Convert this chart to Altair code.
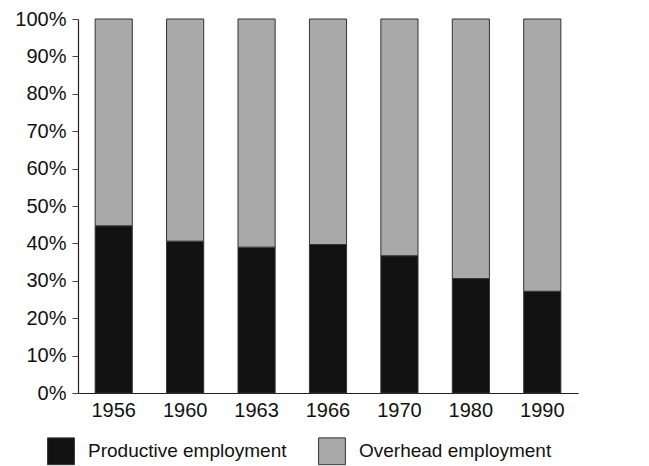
import altair as alt
import pandas as pd

years = ["1956", "1960", "1963", "1966", "1970", "1980", "1990"]
productive = [44.7, 40.6, 39.0, 39.7, 36.7, 30.6, 27.2]
overhead = [100 - p for p in productive]
series = ["Productive employment", "Overhead employment"]
colors = ["#111111", "#a9a9a9"]

rows = []
for y, p, o in zip(years, productive, overhead):
    rows.append({"year": y, "type": series[0], "value": p, "ord": 0})
    rows.append({"year": y, "type": series[1], "value": o, "ord": 1})
df = pd.DataFrame(rows)

font = "Liberation Sans"

chart = alt.Chart(df).mark_bar(stroke="#333333", strokeWidth=1).encode(
    x=alt.X("year:N", sort=years, title=None,
            scale=alt.Scale(paddingInner=0.48, paddingOuter=0.24),
            axis=alt.Axis(labelAngle=0, ticks=False, labelPadding=7,
                          labelFontSize=20, labelFont=font, labelColor="#111",
                          domainColor="#222", domainWidth=1.2)),
    y=alt.Y("value:Q", stack="normalize", title=None,
            scale=alt.Scale(domain=[0, 1]),
            axis=alt.Axis(values=[i / 10 for i in range(11)], format=".0%",
                          grid=False, tickSize=6, tickColor="#444",
                          labelPadding=6, labelFontSize=20, labelFont=font,
                          labelColor="#111", domainColor="#222", domainWidth=1.2)),
    color=alt.Color("type:N", sort=series,
                    scale=alt.Scale(domain=series, range=colors),
                    legend=alt.Legend(orient="none", legendX=-31, legendY=418,
                                      direction="horizontal", title=None,
                                      symbolType="square", symbolSize=720,
                                      symbolStrokeColor="#333", symbolStrokeWidth=1,
                                      labelFontSize=19, labelFont=font,
                                      labelColor="#111", labelOffset=13,
                                      labelLimit=400, columnPadding=29)),
    order=alt.Order("ord:Q", sort="ascending"),
).properties(
    width=500, height=374,
    autosize=alt.AutoSizeParams(type="none"),
    padding={"left": 70, "top": 11, "right": 63, "bottom": 80},
).configure_view(stroke=None)

chart.save("out.html", embed_options={"renderer": "svg", "actions": False})
